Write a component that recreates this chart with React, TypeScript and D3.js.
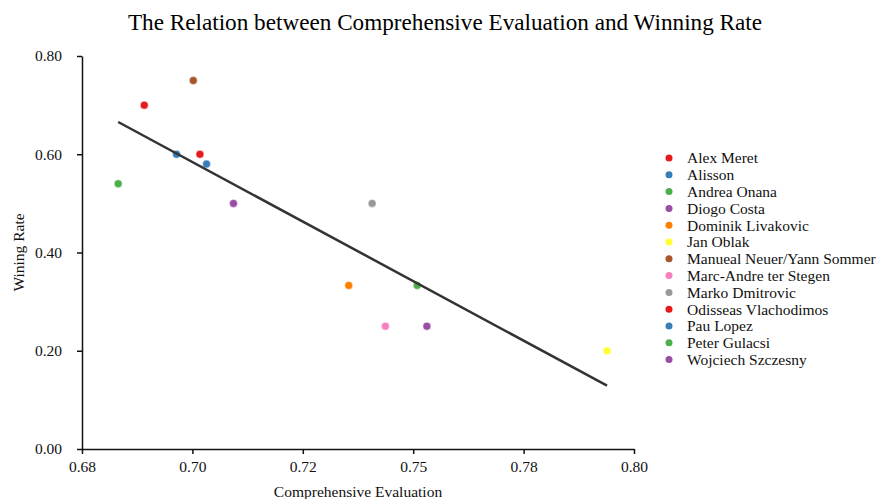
import * as d3 from "d3";
import { useEffect, useRef } from "react";

const players = [
  "Alex Meret",
  "Alisson",
  "Andrea Onana",
  "Diogo Costa",
  "Dominik Livakovic",
  "Jan Oblak",
  "Manueal Neuer/Yann Sommer",
  "Marc-Andre ter Stegen",
  "Marko Dmitrovic",
  "Odisseas Vlachodimos",
  "Pau Lopez",
  "Peter Gulacsi",
  "Wojciech Szczesny",
];
const evaluation = [0.6891, 0.6964, 0.6832, 0.7093, 0.7354, 0.7939, 0.7002, 0.7437, 0.7407, 0.7017, 0.7032, 0.7509, 0.7531];
const winRate = [0.7, 0.6, 0.54, 0.5, 0.333, 0.2, 0.75, 0.25, 0.5, 0.6, 0.58, 0.333, 0.25];
const xTicks = [0.675, 0.7, 0.725, 0.75, 0.775, 0.8];
const xTickLabels = ["0.68", "0.70", "0.72", "0.75", "0.78", "0.80"];
const yTicks = [0, 0.2, 0.4, 0.6, 0.8];

export default function App() {
  const ref = useRef<SVGSVGElement>(null);

  useEffect(() => {
    const svg = d3.select(ref.current);
    svg.selectAll("*").remove();

    const width = 877;
    const height = 499;
    const margin = { top: 56, right: 243, bottom: 50, left: 82 };
    const font = "'Liberation Serif', 'Times New Roman', serif";

    const x = d3
      .scaleLinear()
      .domain([0.675, 0.8])
      .range([margin.left, width - margin.right]);

    const y = d3
      .scaleLinear()
      .domain([0, 0.8])
      .range([height - margin.bottom, margin.top]);

    const color = d3.scaleOrdinal<string, string>().domain(players).range(d3.schemeSet1);

    // Title
    svg
      .append("text")
      .attr("x", 445)
      .attr("y", 30)
      .attr("text-anchor", "middle")
      .attr("font-family", font)
      .attr("font-size", "23.2px")
      .attr("fill", "#000")
      .text("The Relation between Comprehensive Evaluation and Winning Rate");

    // Axes
    const xAxis = svg
      .append("g")
      .attr("transform", `translate(0,${height - margin.bottom})`)
      .call(
        d3.axisBottom(x)
          .tickValues(xTicks)
          .tickFormat((d, i) => xTickLabels[i])
          .tickSize(5)
          .tickSizeOuter(0)
          .tickPadding(7)
      );
    const yAxis = svg
      .append("g")
      .attr("transform", `translate(${margin.left},0)`)
      .call(
        d3.axisLeft(y)
          .tickValues(yTicks)
          .tickFormat(d3.format(".2f"))
          .tickSize(5)
          .tickSizeOuter(0)
          .tickPadding(15)
      );
    [xAxis, yAxis].forEach((g) => {
      g.select(".domain").attr("stroke", "#111").attr("stroke-width", 1.5);
      g.selectAll(".tick line").attr("stroke", "#111").attr("stroke-width", 1.5);
      g.selectAll("text").attr("font-family", font).attr("font-size", "15.5px").attr("fill", "#111");
    });

    svg
      .append("text")
      .attr("x", (margin.left + width - margin.right) / 2)
      .attr("y", 497)
      .attr("text-anchor", "middle")
      .attr("font-family", font)
      .attr("font-size", "15.5px")
      .attr("fill", "#111")
      .text("Comprehensive Evaluation");

    svg
      .append("text")
      .attr("transform", `translate(24,${(margin.top + height - margin.bottom) / 2}) rotate(-90)`)
      .attr("text-anchor", "middle")
      .attr("font-family", font)
      .attr("font-size", "15.5px")
      .attr("fill", "#111")
      .text("Wining Rate");

    // Regression line (least squares)
    const mx = d3.mean(evaluation);
    const my = d3.mean(winRate);
    const sxy = d3.sum(evaluation, (v, i) => (v - mx) * (winRate[i] - my));
    const sxx = d3.sum(evaluation, (v) => (v - mx) ** 2);
    const slope = sxy / sxx;
    const intercept = my - slope * mx;
    const ext = d3.extent(evaluation);
    const line = d3
      .line<number>()
      .x((d) => x(d))
      .y((d) => y(intercept + slope * d));

    // Points
    svg
      .selectAll("circle.pt")
      .data(players)
      .enter()
      .append("circle")
      .attr("class", "pt")
      .attr("cx", (d, i) => x(evaluation[i]))
      .attr("cy", (d, i) => y(winRate[i]))
      .attr("r", 4)
      .attr("fill", (d) => color(d))
      .attr("stroke", "#fff")
      .attr("stroke-width", 0.5);

    svg
      .append("path")
      .datum(ext)
      .attr("fill", "none")
      .attr("stroke", "#333")
      .attr("stroke-width", 2.5)
      .attr("d", line);

    // Legend
    const legend = svg
      .append("g")
      .selectAll("g")
      .data(players)
      .enter()
      .append("g")
      .attr("transform", (d, i) => `translate(669,${158 + i * 16.8})`);
    legend.append("circle").attr("r", 3.5).attr("fill", (d) => color(d));
    legend
      .append("text")
      .attr("x", 18)
      .attr("dy", "0.35em")
      .attr("font-family", font)
      .attr("font-size", "15.5px")
      .attr("fill", "#111")
      .text((d) => d);
  }, []);

  return (
    <svg
      ref={ref}
      width={877}
      height={499}
      style={{ position: "absolute", left: 0, top: 0, background: "#fff" }}
    />
  );
}
